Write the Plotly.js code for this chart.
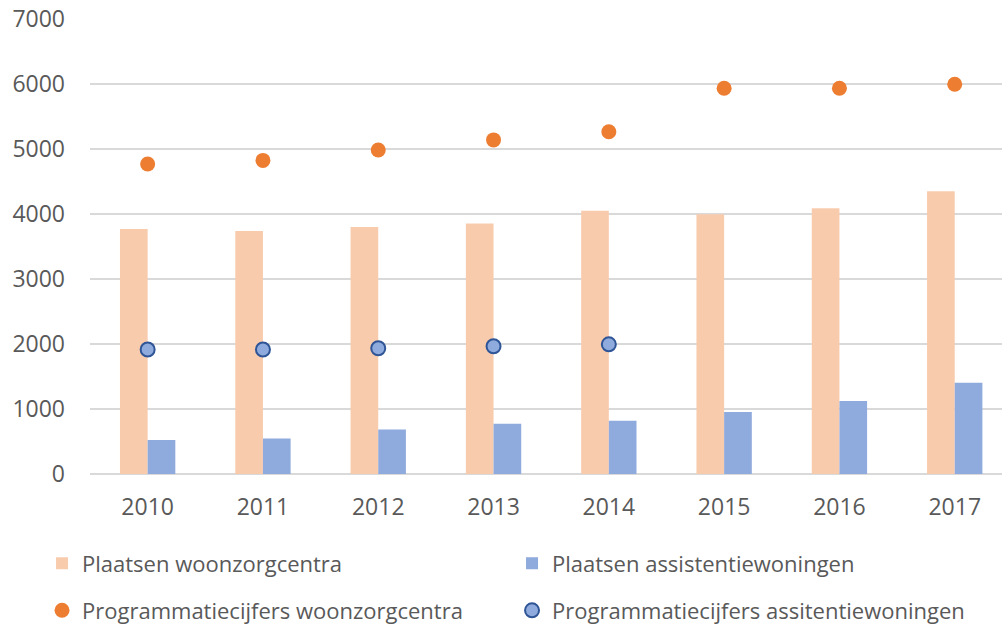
<!DOCTYPE html>
<html>
<head>
<meta charset="utf-8">
<script src="https://cdn.plot.ly/plotly-3.0.1.min.js"></script>
<style>html,body{margin:0;padding:0;background:#fff;}#chart{width:1002px;height:625px;}</style>
</head>
<body>
<div id="chart"></div>
<script>
const years = ['2010','2011','2012','2013','2014','2015','2016','2017'];
const plaatsenWoonzorgcentra = [3770, 3740, 3800, 3855, 4050, 3995, 4090, 4350];
const plaatsenAssistentiewoningen = [525, 545, 685, 775, 820, 955, 1125, 1405];
const programmatieWoonzorgcentra = [4770, 4825, 4985, 5140, 5265, 5935, 5935, 5995];
const programmatieAssistentiewoningen = [1915, 1915, 1935, 1965, 1995, null, null, null];

const fontFam = '"Open Sans", "Noto Sans", sans-serif';
const textCol = '#595959';

const traces = [
  {type:'bar', name:'Plaatsen woonzorgcentra', x: years, y: plaatsenWoonzorgcentra,
   marker:{color:'#F8CBAD'}, legend:'legend'},
  {type:'bar', name:'Plaatsen assistentiewoningen', x: years, y: plaatsenAssistentiewoningen,
   marker:{color:'#8FAADC'}, legend:'legend'},
  {type:'scatter', mode:'markers', name:'Programmatiecijfers woonzorgcentra', x: years, y: programmatieWoonzorgcentra,
   marker:{color:'#ED7D31', size:15}, legend:'legend2'},
  {type:'scatter', mode:'markers', name:'Programmatiecijfers assitentiewoningen', x: years, y: programmatieAssistentiewoningen,
   marker:{color:'#8FAADC', size:14, line:{color:'#2F5597', width:2}}, legend:'legend2'}
];

const legendCommon = {
  orientation:'h', xref:'paper', yref:'paper', xanchor:'left', yanchor:'middle',
  font:{family:fontFam, size:22, color:textCol}, entrywidth:425, entrywidthmode:'pixels',
  bgcolor:'rgba(0,0,0,0)', itemclick:false, tracegroupgap:0
};

const layout = {
  width:1002, height:625,
  margin:{l:90, r:0, t:19, b:151, pad:0, autoexpand:false},
  paper_bgcolor:'#fff', plot_bgcolor:'#fff',
  font:{family:fontFam, size:23, color:textCol},
  barmode:'group', bargap:0.52, bargroupgap:0,
  showlegend:true,
  xaxis:{type:'category', range:[-0.5, 7.41], showgrid:false, zeroline:false,
         showline:false, ticks:'', ticklabelstandoff:17, automargin:false,
         tickfont:{family:fontFam, size:23, color:textCol}},
  yaxis:{range:[0,7000], dtick:1000, tick0:0, showgrid:true, gridcolor:'#D9D9D9', gridwidth:1.5,
         zeroline:true, zerolinecolor:'#D9D9D9', zerolinewidth:1.5, showline:false, ticks:'',
         ticklabelstandoff:24, automargin:false, tickfont:{family:fontFam, size:23, color:textCol}},
  legend: Object.assign({}, legendCommon, {x:-0.0526, y:-0.1967}),
  legend2: Object.assign({}, legendCommon, {x:-0.0526, y:-0.300})
};

Plotly.newPlot('chart', traces, layout, {displayModeBar:false, staticPlot:true});
</script>
</body>
</html>
